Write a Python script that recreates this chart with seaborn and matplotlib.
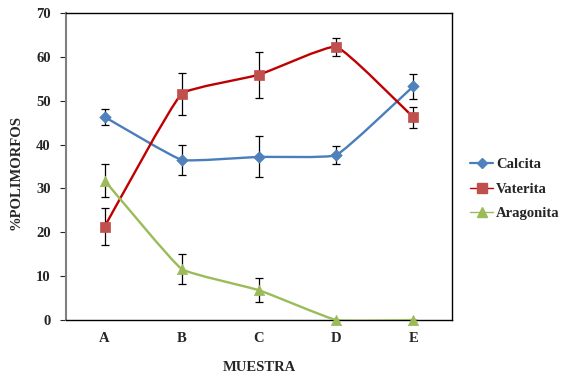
import matplotlib
matplotlib.use("Agg")
import matplotlib.pyplot as plt
import seaborn as sns
import pandas as pd
import numpy as np
from matplotlib.path import Path
from matplotlib.patches import PathPatch
from matplotlib.lines import Line2D

categories = ["A", "B", "C", "D", "E"]
calcita = [46.3, 36.5, 37.2, 37.6, 53.3]
calcita_err = [1.9, 3.5, 4.7, 2.0, 2.8]
vaterita = [21.3, 51.6, 55.9, 62.3, 46.2]
vaterita_err = [4.2, 4.8, 5.3, 2.1, 2.4]
aragonita = [31.8, 11.6, 6.8, 0.0, 0.0]
aragonita_err = [3.7, 3.4, 2.8, 0.0, 0.0]

series_names = ["Calcita", "Vaterita", "Aragonita"]
line_colors = {"Calcita": "#4a7ebb", "Vaterita": "#c00000", "Aragonita": "#9bbb59"}
marker_colors = {"Calcita": "#4f81bd", "Vaterita": "#c0504d", "Aragonita": "#9bbb59"}
markers = {"Calcita": "D", "Vaterita": "s", "Aragonita": "^"}
msizes = {"Calcita": 34, "Vaterita": 60, "Aragonita": 55}

df = pd.DataFrame({
    "muestra": categories * 3,
    "serie": sum([[n] * 5 for n in series_names], []),
    "valor": calcita + vaterita + aragonita,
    "err": calcita_err + vaterita_err + aragonita_err,
})
df["x"] = df["muestra"].map({c: i for i, c in enumerate(categories)})

sns.set_style("white")
plt.rcParams["font.family"] = ["Liberation Serif", "DejaVu Serif"]
plt.rcParams["font.weight"] = "bold"
FS = 10.5

fig = plt.figure(figsize=(5.61, 3.76), dpi=100)
ax = fig.add_axes([66 / 561, 1 - 320 / 376, (452 - 66) / 561, (320 - 13) / 376])
ax.set_xlim(-0.5, 4.5)
ax.set_ylim(0, 70)

# pixel scale of the axes (for smoothing in screen space, as Excel does)
SX = (452 - 66) / 5.0
SY = (320 - 13) / 70.0
TENSION = 0.1


def smooth_path(xs, ys):
    pts = np.column_stack([np.asarray(xs, float) * SX, np.asarray(ys, float) * SY])
    n = len(pts)

    def unit(v):
        nv = np.hypot(*v)
        return v / nv if nv > 0 else v

    verts = [pts[0]]
    codes = [Path.MOVETO]
    for i in range(n - 1):
        p0 = pts[i - 1] if i > 0 else pts[i]
        p1 = pts[i]
        p2 = pts[i + 1]
        p3 = pts[i + 2] if i + 2 < n else pts[i + 1]
        L = np.hypot(*(p2 - p1))
        c1 = p1 + TENSION * L * unit(p2 - p0)
        c2 = p2 - TENSION * L * unit(p3 - p1)
        verts += [c1, c2, p2]
        codes += [Path.CURVE4] * 3
    verts = np.array(verts)
    verts[:, 0] /= SX
    verts[:, 1] /= SY
    return Path(verts, codes)


for name in series_names:
    sub = df[df["serie"] == name]
    ax.errorbar(sub["x"], sub["valor"], yerr=sub["err"], fmt="none",
                ecolor="black", elinewidth=0.9, capsize=3, capthick=0.9, zorder=2)
    patch = PathPatch(smooth_path(sub["x"].values, sub["valor"].values),
                      facecolor="none", edgecolor=line_colors[name], linewidth=1.7,
                      zorder=3, transform=ax.transData)
    ax.add_patch(patch)

for name in series_names:
    sub = df[df["serie"] == name]
    sns.scatterplot(data=sub, x="x", y="valor", marker=markers[name], s=msizes[name],
                    color=marker_colors[name], edgecolor=marker_colors[name],
                    linewidth=0.5, ax=ax, zorder=4, legend=False, clip_on=False)

ax.set_xlim(-0.5, 4.5)
ax.set_ylim(0, 70)
ax.set_yticks(np.arange(0, 71, 10))
ax.set_xticks(range(5))
ax.set_xticklabels(categories)
ax.set_xticks(np.arange(-0.5, 4.6, 1.0), minor=True)
ax.tick_params(axis="x", which="major", length=0, pad=9, labelsize=FS)
ax.tick_params(axis="x", which="minor", length=4, width=0.8, color="#555555", direction="out")
ax.tick_params(axis="y", length=4, width=0.8, direction="out", labelsize=FS, pad=7, left=True)

for s in ["top", "right", "bottom"]:
    ax.spines[s].set_color("black")
    ax.spines[s].set_linewidth(1.0)
ax.spines["left"].set_color("#808080")
ax.spines["left"].set_linewidth(1.5)

ax.set_xlabel("MUESTRA", fontsize=FS, fontweight="bold")
ax.xaxis.set_label_coords(0.5, -(361 - 320) / 307)
ax.set_ylabel("%POLIMORFOS", fontsize=FS, fontweight="bold")
ax.yaxis.set_label_coords(-(66 - 23) / 386, 0.48)

handles = [Line2D([0], [0], color=line_colors[n], marker=markers[n],
                  markersize={"Calcita": 5, "Vaterita": 7, "Aragonita": 7}[n],
                  markerfacecolor=marker_colors[n], markeredgecolor=marker_colors[n],
                  linewidth=1.6 if n == "Calcita" else 1.0) for n in series_names]
fig.legend(handles, series_names, loc="center left", bbox_to_anchor=(467 / 561, 1 - 189 / 376),
           frameon=False, fontsize=FS, handlelength=1.6, handletextpad=0.2, labelspacing=0.75,
           borderaxespad=0, borderpad=0.2)

fig.savefig("out.png", dpi=100)
